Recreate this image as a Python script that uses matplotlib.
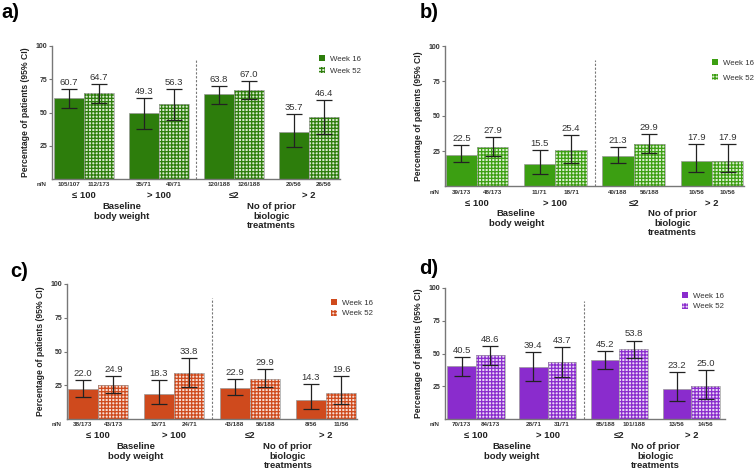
import matplotlib.pyplot as plt
from matplotlib.patches import Patch
import numpy as np

# data per panel: week16 / week52 values, CI low/high, n/N
groups = ["\u2264 100", "> 100", "\u22642", "> 2"]

a_w16 = [60.7, 49.3, 63.8, 35.7]
a_w52 = [64.7, 56.3, 67.0, 46.4]
a_lo16 = [53.4, 37.6, 56.6, 24.0]
a_hi16 = [67.7, 60.7, 70.2, 48.6]
a_lo52 = [56.9, 44.4, 59.9, 33.6]
a_hi52 = [71.2, 67.4, 73.4, 59.4]
a_n = ["105/107", "112/173", "35/71", "40/71", "120/188", "126/188", "20/56", "26/56"]

b_w16 = [22.5, 15.5, 21.3, 17.9]
b_w52 = [27.9, 25.4, 29.9, 17.9]
b_lo16 = [16.9, 8.8, 16.2, 9.7]
b_hi16 = [29.0, 25.4, 27.6, 29.7]
b_lo52 = [21.6, 16.6, 23.5, 9.7]
b_hi52 = [34.7, 36.3, 36.8, 29.7]
b_n = ["39/173", "48/173", "11/71", "18/71", "40/188", "56/188", "10/56", "10/56"]

c_w16 = [22.0, 18.3, 22.9, 14.3]
c_w52 = [24.9, 33.8, 29.9, 19.6]
c_lo16 = [16.3, 10.8, 17.5, 7.4]
c_hi16 = [28.6, 28.6, 29.3, 25.6]
c_lo52 = [19.2, 23.9, 23.6, 11.3]
c_hi52 = [32.0, 45.3, 36.7, 31.5]
c_n = ["38/173", "43/173", "13/71", "24/71", "43/188", "56/188", "8/56", "11/56"]

d_w16 = [40.5, 39.4, 45.2, 23.2]
d_w52 = [48.6, 43.7, 53.8, 25.0]
d_lo16 = [32.9, 28.8, 38.0, 13.8]
d_hi16 = [47.4, 50.8, 52.0, 35.5]
d_lo52 = [41.1, 32.4, 46.4, 15.3]
d_hi52 = [55.6, 54.6, 59.9, 37.5]
d_n = ["70/173", "84/173", "28/71", "31/71", "85/188", "101/188", "13/56", "14/56"]

fig = plt.figure(figsize=(7.55, 4.72), dpi=100)
plt.rcParams['font.family'] = ['Liberation Sans', 'DejaVu Sans']
plt.rcParams['hatch.linewidth'] = 0.9

W = 755.0
H = 472.0
PX = 0.72  # points per pixel

def below(ax, xd, dy_px, txt, **kw):
    ax.annotate(txt, (xd, 0), xycoords=('data', 'axes fraction'), xytext=(0, -dy_px * PX),
                textcoords='offset points', ha='center', va='center', **kw)

def panel(rect, tag, tagpos, color, tint, w16, w52, lo16, hi16, lo52, hi52, nn, legpos, legsp, xlim):
    l, r, top, bot = rect
    ax = fig.add_axes([l / W, 1 - bot / H, (r - l) / W, (bot - top) / H])
    x = np.arange(4)
    bw = 0.4
    ax.bar(x - bw / 2, w16, bw, color=color, edgecolor='#999999', linewidth=0.5, zorder=2)
    ax.bar(x + bw / 2, w52, bw, color=tint, edgecolor=color, hatch='+++++', linewidth=0, zorder=2)
    ax.bar(x + bw / 2, w52, bw, fill=False, edgecolor='#a0a0a0', linewidth=0.5, zorder=3)
    e16 = [np.array(w16) - np.array(lo16), np.array(hi16) - np.array(w16)]
    e52 = [np.array(w52) - np.array(lo52), np.array(hi52) - np.array(w52)]
    ax.errorbar(x - bw / 2, w16, yerr=e16, fmt='none', ecolor='#222222', elinewidth=0.9, capsize=5.8, capthick=0.9, zorder=4)
    ax.errorbar(x + bw / 2, w52, yerr=e52, fmt='none', ecolor='#222222', elinewidth=0.9, capsize=5.8, capthick=0.9, zorder=4)
    for xi, v, h in zip(x - bw / 2, w16, hi16):
        ax.annotate(f"{v:.1f}", (xi, h), xytext=(0, 1.5), textcoords='offset points', ha='center', va='bottom', fontsize=6.8, color='#333333')
    for xi, v, h in zip(x + bw / 2, w52, hi52):
        ax.annotate(f"{v:.1f}", (xi, h), xytext=(0, 1.5), textcoords='offset points', ha='center', va='bottom', fontsize=6.8, color='#333333')
    ax.plot([1.5, 1.5], [0, 90], ls=(0, (2, 1.5)), color='#777777', lw=0.8, zorder=1)
    ax.set_xlim(*xlim)
    ax.set_ylim(0, 100)
    ax.set_yticks([25, 50, 75, 100])
    ax.set_yticklabels(["25", "50", "75", "100"], fontsize=5, fontweight='bold', color='#333333')
    ax.set_xticks([])
    for s in ['top', 'right']:
        ax.spines[s].set_visible(False)
    for s in ['left', 'bottom']:
        ax.spines[s].set_color('#777777')
        ax.spines[s].set_linewidth(1.0)
    ax.tick_params(axis='y', length=2.5, width=0.8, color='#777777', pad=1)
    ax.set_ylabel("Percentage of patients (95% CI)", fontsize=6.2, fontweight='bold', labelpad=4, color='#222222')
    # n/N row
    xs = np.ravel(np.column_stack([x - bw / 2, x + bw / 2]))
    for xi, t in zip(xs, nn):
        below(ax, xi, 6, t, fontsize=4.5, fontweight='bold', color='#333333')
    ax.annotate("n/N", (0, 0), xycoords='axes fraction', xytext=(-4, -6 * PX), textcoords='offset points',
                ha='right', va='center', fontsize=4.5, fontweight='bold', color='#333333')
    for xi, g in zip(x, groups):
        below(ax, xi, 17, g, fontsize=6.8, fontweight='bold', color='#222222')
    for i, line in enumerate(["Baseline", "body weight"]):
        below(ax, 0.5, 27.5 + 9.7 * i, line, fontsize=6.8, fontweight='bold', color='#222222')
    for i, line in enumerate(["No of prior", "biologic", "treatments"]):
        below(ax, 2.5, 27.5 + 9.7 * i, line, fontsize=6.8, fontweight='bold', color='#222222')
    handles = [Patch(facecolor=color, edgecolor='none'),
               Patch(facecolor=tint, edgecolor=color, hatch='+++++', linewidth=0)]
    ax.legend(handles, ["Week 16", "Week 52"], loc='upper left', bbox_to_anchor=(legpos[0] / W, 1 - legpos[1] / H),
              bbox_transform=fig.transFigure, frameon=False, fontsize=5.7, handlelength=0.8, handleheight=0.8,
              handletextpad=0.6, labelspacing=legsp, borderpad=0, borderaxespad=0, labelcolor='#333333')
    fig.text(tagpos[0] / W, 1 - tagpos[1] / H, tag, fontsize=14.5, fontweight='bold', ha='left', va='top')
    return ax

panel((52, 340, 46, 179), "a)", (1, 3), '#2d7d0c', '#d9ead0', a_w16, a_w52, a_lo16, a_hi16, a_lo52, a_hi52, a_n, (319, 55), 0.5, (-0.43, 3.42))
panel((445, 744, 46, 186), "b)", (420, 3), '#3c9f12', '#dcefd2', b_w16, b_w52, b_lo16, b_hi16, b_lo52, b_hi52, b_n, (712, 59), 0.9, (-0.41, 3.41))
panel((67, 357, 284, 419), "c)", (10, 262), '#cf4a1d', '#f8ddd3', c_w16, c_w52, c_lo16, c_hi16, c_lo52, c_hi52, c_n, (331, 299), 0.35, (-0.41, 3.41))
panel((445, 725, 288, 419), "d)", (419, 259), '#8a2ccd', '#ead8f6', d_w16, d_w52, d_lo16, d_hi16, d_lo52, d_hi52, d_n, (682, 292), 0.35, (-0.43, 3.47))

fig.savefig("out.png", dpi=100)
